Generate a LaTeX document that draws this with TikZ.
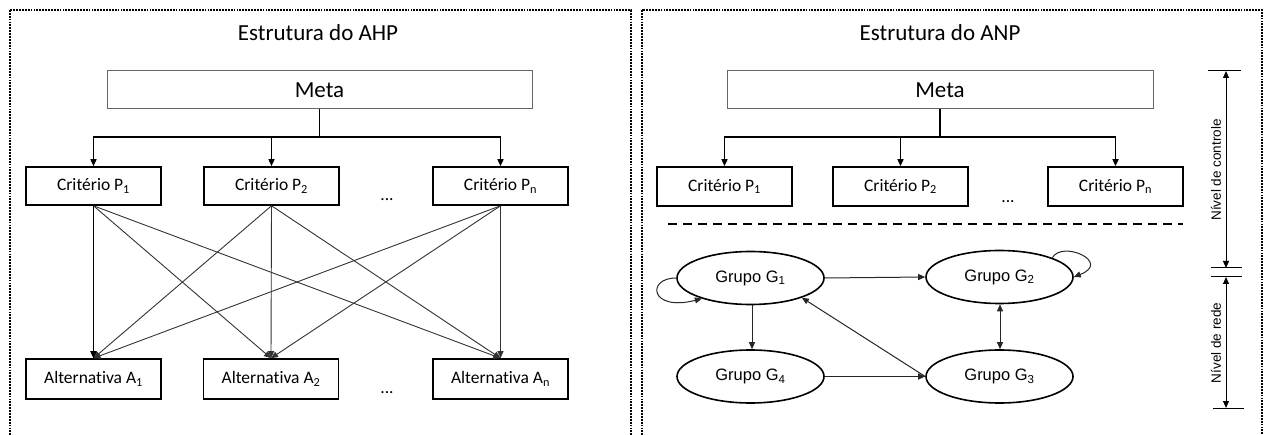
\documentclass[tikz,border=0pt]{standalone}
\usepackage{fontspec}
\setmainfont{Carlito}[Ligatures={NoCommon}]
\newfontfamily\arialf{Liberation Sans}
\usetikzlibrary{arrows.meta,shapes.geometric}
\begin{document}
\begin{tikzpicture}[x=1pt,y=-1pt,
  panel/.style={line width=2.6pt, dash pattern=on 1.8pt off 1.1pt},
  metabox/.style={draw=black!60, line width=1pt, minimum width=425pt, minimum height=38pt, inner sep=0pt, font=\fontsize{23}{26}\selectfont},
  crit/.style={draw, line width=1.6pt, minimum width=135pt, minimum height=38pt, inner sep=0pt, font=\fontsize{17.5}{20}\selectfont},
  alt/.style={crit, minimum height=40pt},
  grp/.style={draw, ellipse, line width=1.6pt, minimum width=147pt, minimum height=53pt, inner sep=0pt, font=\arialf\fontsize{16.5}{19}\selectfont},
  tip/.style={-{Triangle[length=7pt,width=6pt]}},
  tree/.style={tip, line width=1.5pt},
  link/.style={tip, line width=0.9pt, draw=black!80},
  net/.style={tip, line width=1pt, draw=black!85},
  dimline/.style={line width=1pt},
  titletext/.style={font=\fontsize{23}{26}\selectfont},
  dots/.style={font=\fontsize{17.5}{20}\selectfont},
  sidelabel/.style={font=\arialf\fontsize{13.5}{16}\selectfont, rotate=90}
]
\useasboundingbox (0,0) rectangle (1268,435);
\begin{scope}
\clip (0,0) rectangle (1268,435);
\draw[panel] (10,10) rectangle (631,450);
\draw[panel] (642,10) rectangle (1262,450);
\end{scope}

% ---------------- AHP ----------------
\node[titletext] (tA) at (318,33) {Estrutura do AHP};
\node[metabox] (mA) at (319.5,90) {Meta};
\node[crit] (p1) at (93.5,186) {Critério P\textsubscript{1}};
\node[crit] (p2) at (271.5,186) {Critério P\textsubscript{2}};
\node[crit] (pn) at (500.5,186) {Critério P\textsubscript{n}};
\node[dots] (d1) at (387,200) {...};
\node[alt] (a1) at (93.5,379) {Alternativa A\textsubscript{1}};
\node[alt] (a2) at (271,379) {Alternativa A\textsubscript{2}};
\node[alt] (an) at (500.5,379) {Alternativa A\textsubscript{n}};
\node[dots] (d2) at (387,393) {...};

\coordinate (jA) at (319.5,137);
\draw[line width=1.5pt] (mA.south) -- (jA);
\draw[tree] (jA) -| (p1.north);
\draw[tree] (jA) -| (p2.north);
\draw[tree] (jA) -| (pn.north);

\foreach \s in {p1,p2,pn}{
  \foreach \t in {a1,a2,an}{
    \draw[link] (\s.south) -- (\t.north);
  }
}
\draw[tip, line width=1.2pt] (p1.south) -- (a1.north);

% ---------------- ANP ----------------
\node[titletext] (tN) at (940,33) {Estrutura do ANP};
\node[metabox, minimum width=426pt] (mN) at (940,90) {Meta};
\node[crit, minimum height=39pt] (q1) at (724.5,186.5) {Critério P\textsubscript{1}};
\node[crit, minimum height=39pt] (q2) at (900.5,186.5) {Critério P\textsubscript{2}};
\node[crit, minimum height=39pt] (qn) at (1115.5,186.5) {Critério P\textsubscript{n}};
\node[dots] (d3) at (1008,202) {...};

\coordinate (jN) at (940,137);
\draw[line width=1.5pt] (mN.south) -- (jN);
\draw[tree] (jN) -| (q1.north);
\draw[tree] (jN) -| (q2.north);
\draw[tree] (jN) -| (qn.north);

\coordinate (dashL) at (668,224);
\coordinate (dashR) at (1183,224);
\draw[line width=2.5pt, dash pattern=on 9pt off 6pt] (dashL) -- (dashR);

\node[grp] (g1) at (750.5,278) {Grupo G\textsubscript{1}};
\node[grp] (g2) at (999.5,277) {Grupo G\textsubscript{2}};
\node[grp] (g4) at (750.5,376.5) {Grupo G\textsubscript{4}};
\node[grp] (g3) at (999.5,376.5) {Grupo G\textsubscript{3}};

\draw[net] (g1.east) -- (g2.west);
\draw[net] (g4.east) -- (g3.west);
\draw[net] (g1.south -| 752,0) -- (g4.north -| 752,0);
\draw[net] (g3.west) -- (g1.-21);
\draw[net, {Triangle[length=7pt,width=6pt]}-{Triangle[length=7pt,width=6pt]}] (g2.south -| 1000,0) -- (g3.north -| 1000,0);
\draw[net] (g1.west) .. controls (646,278) and (650,312) .. (g1.203);
\draw[net] (g2.20) .. controls (1062,240) and (1112,262) .. (g2.east);

% dimension markers
\coordinate (t1a) at (1208,71);  \coordinate (t1b) at (1241,71);
\coordinate (t2a) at (1211,268); \coordinate (t2b) at (1242,268);
\coordinate (t3a) at (1211,277); \coordinate (t3b) at (1242,277);
\coordinate (t4a) at (1213,408); \coordinate (t4b) at (1244,408);
\draw[dimline] (t1a) -- (t1b);
\draw[dimline] (t2a) -- (t2b);
\draw[dimline] (t3a) -- (t3b);
\draw[dimline] (t4a) -- (t4b);
\coordinate (v1) at (1226,71);
\coordinate (v2) at (1226,268);
\coordinate (v3) at (1226,277);
\coordinate (v4) at (1226,408);
\draw[dimline, {Triangle[length=7pt,width=6pt]}-{Triangle[length=7pt,width=6pt]}] (v1) -- (v2);
\draw[dimline, {Triangle[length=7pt,width=6pt]}-{Triangle[length=7pt,width=6pt]}] (v3) -- (v4);
\node[sidelabel] (lc) at (1216,170) {Nível de controle};
\node[sidelabel] (lr) at (1216,343) {Nível de rede};
\end{tikzpicture}
\end{document}
